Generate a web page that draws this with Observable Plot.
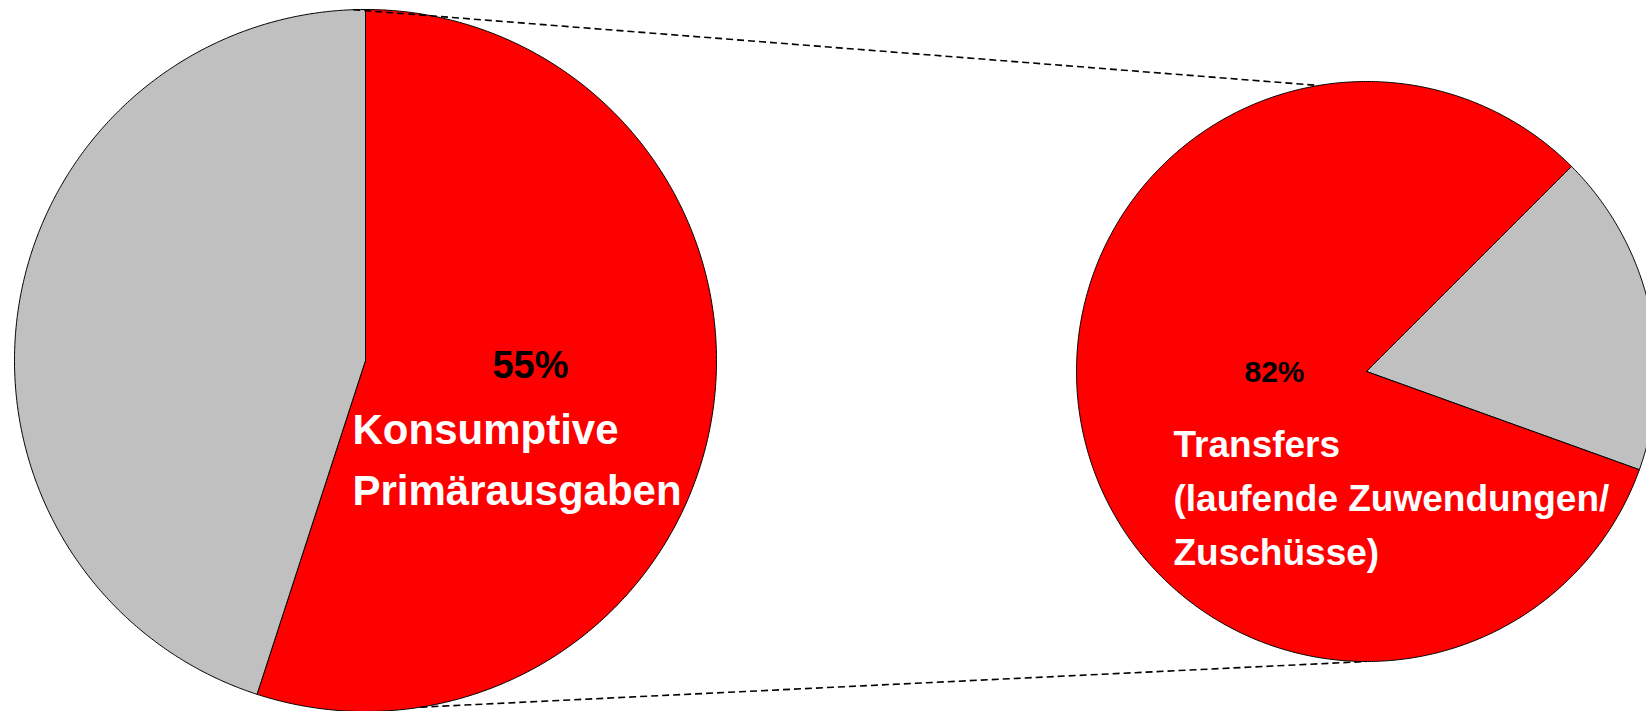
<!DOCTYPE html>
<html><head><meta charset="utf-8">
<script src="https://cdn.jsdelivr.net/npm/d3@7"></script>
<script src="https://cdn.jsdelivr.net/npm/@observablehq/plot@0.6"></script>
<style>html,body{margin:0;padding:0;background:#fff;overflow:hidden}</style>
</head><body><div id="chart"></div>
<script>
// ---- data ----
const leftCategories = ["Konsumptive Primärausgaben", "Übrige Ausgaben"];
const leftShares = [55, 45];
const rightCategories = ["Übrige", "Transfers (laufende Zuwendungen/ Zuschüsse)"];
const rightShares = [18, 82];
const leftPercentLabel = ["55%"];
const leftLabelLines = ["Konsumptive", "Primärausgaben"];
const rightPercentLabel = ["82%"];
const rightLabelLines = ["Transfers", "(laufende Zuwendungen/", "Zuschüsse)"];

// ---- layout / style ----
const W = 1646, H = 711;
const RED = "#FF0000", GRAY = "#C0C0C0";
const FONT = "'Liberation Sans', Arial, Helvetica, sans-serif";
const pies = [
  {name: "left", cx: 365, cy: 360, r: 351, start: 0, cats: leftCategories, vals: leftShares, colors: [RED, GRAY]},
  {name: "right", cx: 1366, cy: 371, r: 290, start: 45, cats: rightCategories, vals: rightShares, colors: [GRAY, RED]}
];
const rad = (deg) => deg * Math.PI / 180;
const pt = (p, a) => ({x: p.cx + p.r * Math.sin(a), y: p.cy - p.r * Math.cos(a)});

// build slice polygons from the shares via d3.pie
const slicePts = [];
for (const p of pies) {
  const arcs = d3.pie().sort(null).value(d => d.v)
    .startAngle(rad(p.start)).endAngle(rad(p.start) + 2 * Math.PI)(p.cats.map((c, i) => ({c, v: p.vals[i], color: p.colors[i]})));
  for (const a of arcs) {
    const id = p.name + ":" + a.data.c;
    slicePts.push({id, color: a.data.color, x: p.cx, y: p.cy});
    const n = Math.max(2, Math.ceil((a.endAngle - a.startAngle) / rad(0.4)));
    for (let k = 0; k <= n; k++) {
      const ang = a.startAngle + (a.endAngle - a.startAngle) * k / n;
      slicePts.push({id, color: a.data.color, ...pt(p, ang)});
    }
    slicePts.push({id, color: a.data.color, x: p.cx, y: p.cy});
  }
}

// connector lines between the two pies (angles on each pie)
const connectorAngles = [[-2, -9.5], [171, 180]];
const connectors = connectorAngles.map(([a1, a2]) => {
  const s = pt(pies[0], rad(a1)), e = pt(pies[1], rad(a2));
  return {x1: s.x, y1: s.y, x2: e.x, y2: e.y};
});

const leftText = [
  ...leftPercentLabel.map(t => ({t, x: 530, y: 377, size: 38, fill: "black", anchor: "middle"})),
  ...leftLabelLines.map((t, i) => ({t, x: 352, y: 443 + i * 61, size: 42, fill: "white", anchor: "start"}))
];
const rightText = [
  ...rightPercentLabel.map(t => ({t, x: 1274, y: 381, size: 30, fill: "black", anchor: "middle"})),
  ...rightLabelLines.map((t, i) => ({t, x: 1173, y: 456 + i * 54, size: 37, fill: "white", anchor: "start"}))
];
const texts = [...leftText, ...rightText];

const chart = Plot.plot({
  width: W, height: H,
  margin: 0,
  x: {domain: [0, W], axis: null},
  y: {domain: [H, 0], axis: null},
  color: {type: "identity"},
  style: {background: "white", fontFamily: FONT, overflow: "visible"},
  marks: [
    Plot.line(slicePts, {x: "x", y: "y", z: "id", fill: "color", stroke: "black", strokeWidth: 1, strokeLinejoin: "round", curve: "linear"}),
    Plot.link(connectors, {x1: "x1", y1: "y1", x2: "x2", y2: "y2", stroke: "black", strokeWidth: 1.6, strokeDasharray: "7,4"}),
    ...["middle", "start"].map(anchor => Plot.text(texts.filter(d => d.anchor === anchor), {
      x: "x", y: "y", text: "t", fill: "fill", fontSize: d => d.size,
      fontWeight: "bold", textAnchor: anchor, lineAnchor: "bottom", fontFamily: FONT
    }))
  ]
});
document.getElementById("chart").appendChild(chart);
</script>
</body></html>
